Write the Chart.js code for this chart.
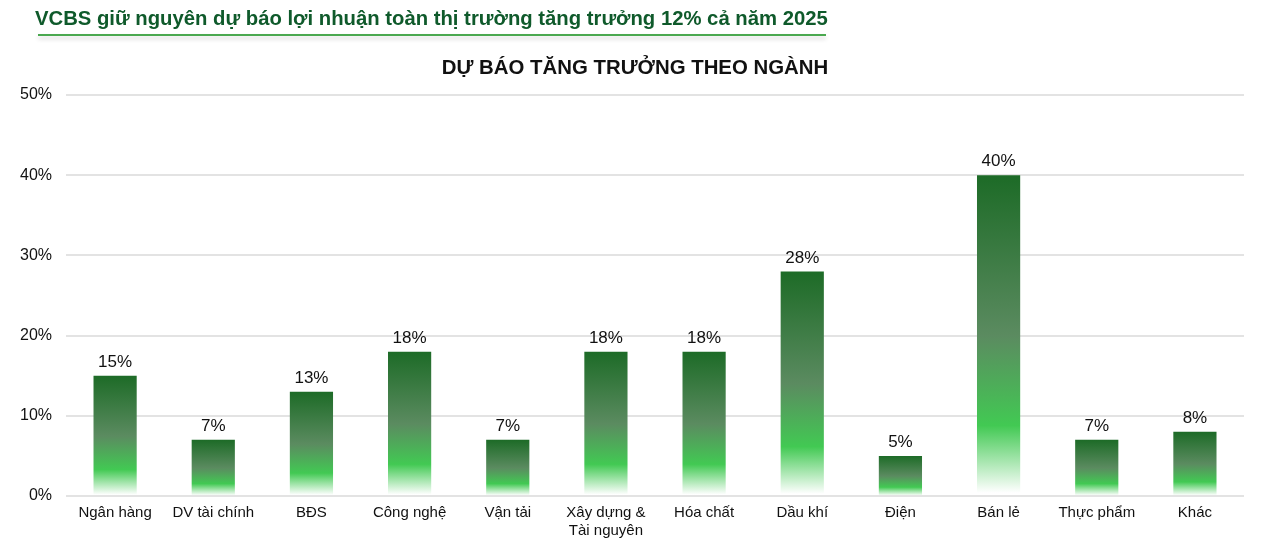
<!DOCTYPE html>
<html>
<head>
<meta charset="utf-8">
<script src="https://cdn.jsdelivr.net/npm/chart.js@4/dist/chart.umd.min.js"></script>
<style>
  html, body { margin: 0; padding: 0; background: #fff; }
  body { width: 1280px; height: 542px; position: relative; overflow: hidden; font-family: "Liberation Sans", Arial, sans-serif; }
  #headline {
    position: absolute; left: 35px; top: 7px;
    font-family: "Liberation Sans", Arial, sans-serif;
    font-weight: bold; font-size: 20.3px; color: #0f5a2b; white-space: nowrap;
  }
  #rule {
    position: absolute; left: 38px; top: 34px; width: 788px; height: 2px;
    background: #4aa84f; box-shadow: 0 3px 4px rgba(0,0,0,0.18);
  }
  #title {
    position: absolute; left: 335px; width: 600px; top: 55px; text-align: center;
    font-family: "Liberation Sans", Arial, sans-serif;
    font-weight: bold; font-size: 20.4px; line-height: 24px; color: #111; white-space: nowrap;
  }
  #wrap { position: absolute; left: 0; top: 0; width: 1280px; height: 548px; }
</style>
</head>
<body>
<div id="wrap"><canvas id="c" width="1280" height="548"></canvas></div>
<div id="headline">VCBS giữ nguyên dự báo lợi nhuận toàn thị trường tăng trưởng 12% cả năm 2025</div>
<div id="rule"></div>
<div id="title"></div>
<script>
const categories = ["Ngân hàng", "DV tài chính", "BĐS", "Công nghệ", "Vận tải", ["Xây dựng &", "Tài nguyên"], "Hóa chất", "Dầu khí", "Điện", "Bán lẻ", "Thực phẩm", "Khác"];
const growth = [15, 7, 13, 18, 7, 18, 18, 28, 5, 40, 7, 8];
const yTicks = [0, 10, 20, 30, 40, 50];
const chartTitle = "DỰ BÁO TĂNG TRƯỞNG THEO NGÀNH";
document.getElementById("title").textContent = chartTitle;

function barGradient(context) {
  const chart = context.chart;
  const { ctx, chartArea, scales } = chart;
  if (!chartArea || !scales.y) return "#2a7a33";
  const v = context.raw;
  const top = scales.y.getPixelForValue(v);
  const bottom = scales.y.getPixelForValue(0);
  const g = ctx.createLinearGradient(0, top, 0, bottom);
  g.addColorStop(0, "#1d6b27");
  g.addColorStop(0.5, "#5b8b60");
  g.addColorStop(0.78, "#42c953");
  g.addColorStop(0.99, "rgba(255,255,255,1)");
  g.addColorStop(1, "rgba(255,255,255,1)");
  return g;
}

const valueLabels = {
  id: "valueLabels",
  afterDatasetsDraw(chart) {
    const { ctx } = chart;
    const meta = chart.getDatasetMeta(0);
    ctx.save();
    ctx.font = "17px 'Liberation Sans', Arial, sans-serif";
    ctx.fillStyle = "#111";
    ctx.textAlign = "center";
    ctx.textBaseline = "bottom";
    meta.data.forEach((el, i) => {
      ctx.fillText(growth[i] + "%", el.x, el.y - 5);
    });
    ctx.restore();
  }
};

new Chart(document.getElementById("c"), {
  type: "bar",
  data: {
    labels: categories,
    datasets: [{
      data: growth,
      backgroundColor: barGradient,
      borderWidth: 0,
      barPercentage: 0.44,
      categoryPercentage: 1
    }]
  },
  options: {
    responsive: false,
    animation: false,
    devicePixelRatio: 1,
    layout: { padding: { top: 95, left: 6, right: 36, bottom: 0 } },
    plugins: {
      legend: { display: false },
      tooltip: { enabled: false },
      title: { display: false }
    },
    scales: {
      x: {
        grid: { display: false, drawTicks: false },
        border: { display: false },
        ticks: {
          color: "#111",
          padding: 8,
          maxRotation: 0,
          autoSkip: false,
          font: { family: "'Liberation Sans', Arial, sans-serif", size: 15, lineHeight: 1.2 }
        }
      },
      y: {
        min: 0, max: 50,
        afterBuildTicks(axis) { axis.ticks = yTicks.map(v => ({ value: v })); },
        grid: { color: "#e3e3e3", lineWidth: 2, drawTicks: false },
        border: { display: false },
        ticks: {
          color: "#111",
          padding: 14,
          callback: v => v + "%",
          font: { family: "'Liberation Sans', Arial, sans-serif", size: 16 }
        }
      }
    }
  },
  plugins: [valueLabels]
});
</script>
</body>
</html>
